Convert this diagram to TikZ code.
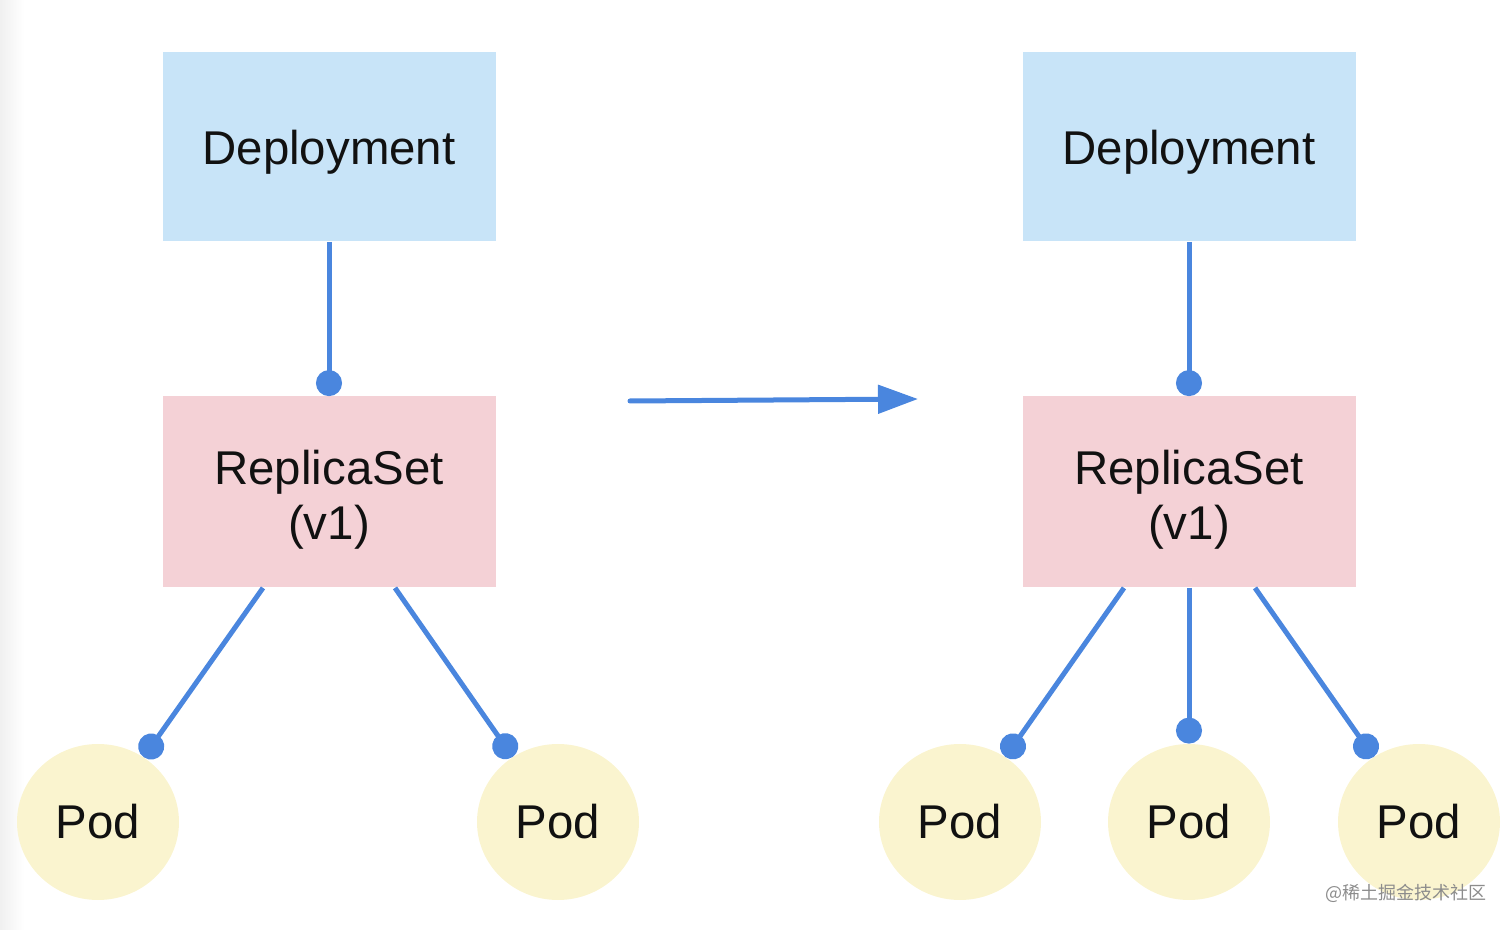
\documentclass[tikz,border=0pt]{standalone}
\usepackage{fontspec}
\setmainfont{Liberation Sans}
\newfontfamily\cjkfont{Noto Sans CJK SC}
\usetikzlibrary{arrows.meta,shapes.geometric,positioning}

\definecolor{depblue}{RGB}{200,228,248}
\definecolor{rspink}{RGB}{244,209,214}
\definecolor{podyellow}{RGB}{250,244,207}
\definecolor{linkblue}{RGB}{74,134,222}
\definecolor{inkblack}{RGB}{17,17,17}

\tikzset{
  deploy/.style={fill=depblue, minimum width=166.5pt, minimum height=94.5pt,
    inner sep=0pt, text=inkblack, text height=23pt, text depth=5pt,
    font=\fontsize{23.7}{27.5}\selectfont},
  rset/.style={fill=rspink, minimum width=166.5pt, minimum height=95.5pt,
    inner sep=0pt, align=center, text=inkblack, text height=53pt, text depth=5pt,
    font=\fontsize{23.7}{27.5}\selectfont},
  pod/.style={ellipse, fill=podyellow, minimum width=81pt, minimum height=78pt,
    inner sep=0pt, text=inkblack, font=\fontsize{23.7}{27.5}\selectfont},
  link/.style={color=linkblue, line width=2.5pt, -{Circle[length=13pt]}}
}

\begin{document}
\begin{tikzpicture}[x=0.5pt,y=-0.5pt]
    \useasboundingbox (0,0) rectangle (1512,930);
    \shade[left color=black!6, right color=white] (0,0) rectangle (24,930);

    % before
    \node[deploy] (dep1) at (329,147) {Deployment};
    \node[rset]   (rs1)  at (329,492) {ReplicaSet\\(v1)};
    \node[pod]    (pod1) at (98,822)  {Pod};
    \node[pod]    (pod2) at (558,822) {Pod};

    % after
    \node[deploy] (dep2) at (1189,147) {Deployment};
    \node[rset]   (rs2)  at (1189,492) {ReplicaSet\\(v1)};
    \node[pod]    (pod3) at (960,822)  {Pod};
    \node[pod]    (pod4) at (1189,822) {Pod};
    \node[pod]    (pod5) at (1419,822) {Pod};

    \path[link]
    (dep1) edge (rs1)
    ([xshift=-33pt]rs1.south) edge (pod1)
    ([xshift=33pt]rs1.south)  edge (pod2)
    (dep2) edge (rs2)
    ([xshift=-32.5pt]rs2.south) edge (pod3)
    (rs2.south) edge (pod4)
    ([xshift=33pt]rs2.south)  edge (pod5)
    ;

    \coordinate (from) at (630,401);
    \coordinate (to)   at (918,399);
    \draw[color=linkblue, line width=2.5pt, line cap=round,
      -{Triangle[length=20pt, width=14pt]}] (from) -- (to);

    \node[font=\cjkfont\fontsize{9}{10}\selectfont, text=black!45, anchor=east,
      inner sep=0pt] (mark) at (1487,893) {@稀土掘金技术社区};
  \end{tikzpicture}
\end{document}
